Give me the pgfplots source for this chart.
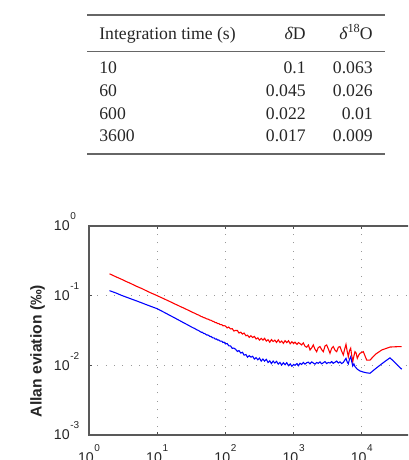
\documentclass[border=0pt]{standalone}
\usepackage{fontspec}
\setmainfont{Liberation Serif}
\newfontfamily\tabfont{Liberation Serif}
\newfontfamily\plotfont{Liberation Sans}
\usepackage{pgfplots}
\usepackage{pgfplotstable}
\pgfplotsset{compat=1.18}

% tick labels: "10" with a raised exponent
\newcommand\tickfont{\plotfont\fontsize{8.5}{10}\selectfont}
\newcommand\expo[1]{\raisebox{6.6pt}{\fontsize{6}{7}\selectfont #1}}
\newcommand\xl[1]{10\kern0.4pt\smash{\expo{#1}}}
\newcommand\yl[1]{10\rlap{\kern0.4pt\smash{\expo{#1}}}}
\newcommand\tabtext{\tabfont\fontsize{10.6}{12}\selectfont}

% Allan deviation, delta D (permil)
\pgfplotstableread{
tau sig
2 0.206
2.5 0.186
3 0.172
3.5 0.160
4 0.151
4.5 0.143
5 0.136
6 0.126
7 0.117
8 0.110
9 0.1047
10 0.1000
11 0.0957
12 0.0921
13 0.0888
14 0.0858
15 0.0832
16 0.0807
18 0.0763
20 0.0728
22 0.0696
24 0.0670
26 0.0645
28 0.0624
30 0.0604
32 0.0585
34 0.0569
36 0.0556
38 0.0540
40 0.0530
42 0.0517
44 0.0503
46 0.0497
48 0.0484
50 0.0480
53 0.0465
56 0.0460
59 0.0446
62 0.0443
65 0.0428
68 0.0425
71 0.0410
74 0.0411
77 0.0397
80 0.0398
84 0.0384
88 0.0384
92 0.0370
96 0.0371
100 0.0367
106 0.0345
112 0.0354
119 0.0333
126 0.0336
133 0.0311
141 0.0317
150 0.0316
158 0.0291
168 0.0299
178 0.0281
188 0.0291
200 0.0266
211 0.0271
224 0.0252
237 0.0266
251 0.0251
266 0.0260
282 0.0239
299 0.0248
316 0.0230
335 0.0244
355 0.0230
376 0.0244
398 0.0223
422 0.0233
447 0.0215
473 0.0234
501 0.0220
531 0.0230
562 0.0213
596 0.0232
631 0.0213
668 0.0223
708 0.0207
750 0.0226
794 0.0212
841 0.0225
891 0.0204
944 0.0218
1000 0.0205
1049 0.0215
1120 0.0200
1180 0.0212
1242 0.0205
1310 0.0196
1388 0.0210
1470 0.0188
1556 0.0182
1650 0.0196
1740 0.0166
1840 0.0178
1945 0.0196
2060 0.0170
2178 0.0157
2300 0.0180
2437 0.0186
2580 0.0168
2728 0.0157
2890 0.0190
3054 0.0196
3230 0.0172
3418 0.0149
3610 0.0175
3820 0.0186
4050 0.0165
4283 0.0157
4530 0.0182
4786 0.0186
5060 0.0160
5356 0.0141
5600 0.0170
5865 0.0200
6100 0.0160
6345 0.0133
6600 0.0162
6874 0.0176
7100 0.0140
7361 0.0113
7650 0.0135
7943 0.0157
8250 0.0150
8590 0.0126
9000 0.0140
9413 0.0149
10520 0.0157
11800 0.0119
13190 0.0119
16000 0.0145
19590 0.0166
25900 0.0183
32000 0.0185
38460 0.0186
}\dD

% Allan deviation, delta 18O (permil)
\pgfplotstableread{
tau sig
2 0.118
2.5 0.109
3 0.101
3.5 0.0955
4 0.0910
4.5 0.0872
5 0.0840
6 0.0785
7 0.0740
8 0.0705
9 0.0675
10 0.0650
11 0.0619
12 0.0592
13 0.0568
14 0.0547
15 0.0527
16 0.0510
18 0.0480
20 0.0454
22 0.0432
24 0.0412
26 0.0396
28 0.0380
30 0.0367
32 0.0354
34 0.0344
36 0.0335
38 0.0324
40 0.0318
42 0.0308
44 0.0299
46 0.0298
48 0.0287
50 0.0285
53 0.0273
56 0.0272
59 0.0260
62 0.0259
65 0.0248
68 0.0248
71 0.0238
74 0.0239
77 0.0230
80 0.0232
84 0.0222
88 0.0223
92 0.0213
96 0.0215
100 0.0203
106 0.0206
112 0.0191
119 0.0190
126 0.0175
133 0.0177
141 0.0170
150 0.0158
158 0.0163
168 0.0150
178 0.0154
188 0.0140
200 0.0143
211 0.0131
224 0.0138
237 0.0131
251 0.0135
266 0.0123
282 0.0129
299 0.0120
316 0.0127
335 0.0115
355 0.0123
376 0.0115
398 0.0122
422 0.0110
447 0.0116
473 0.0106
501 0.0115
531 0.0108
562 0.0114
596 0.0104
631 0.0110
668 0.0101
708 0.0109
750 0.0102
794 0.0109
841 0.0099
891 0.0105
944 0.0097
1000 0.0103
1049 0.0100
1120 0.0106
1180 0.0099
1242 0.0107
1310 0.0103
1388 0.0110
1470 0.0104
1556 0.0109
1650 0.0111
1740 0.0105
1840 0.0112
1945 0.0108
2060 0.0104
2178 0.0110
2300 0.0107
2437 0.0112
2580 0.0105
2728 0.0109
2890 0.0113
3054 0.0106
3230 0.0110
3418 0.0108
3610 0.0113
3820 0.0107
4050 0.0111
4283 0.0115
4530 0.0108
4786 0.0112
5060 0.0106
5356 0.0110
5600 0.0118
5865 0.0126
6100 0.0112
6345 0.0105
6600 0.0122
6874 0.0133
7100 0.0115
7361 0.0098
7650 0.0105
7943 0.0096
8590 0.0088
9413 0.0083
10520 0.0080
11800 0.0078
13190 0.0077
16000 0.0090
19590 0.0105
23000 0.0118
25900 0.0128
30000 0.0112
38460 0.0088
}\dO

\begin{document}
\begin{tikzpicture}
\useasboundingbox (0,0) rectangle (244.8pt,276pt);
\clip (0,0) rectangle (244.8pt,276pt);

% precision table
\begin{scope}[x=0.6pt,y=0.6pt,every node/.style={inner sep=0pt,text=black!85,font=\tabtext}]
  \draw[black!60,line width=0.8pt] (87,445) -- (385,445);
  \draw[black!60,line width=0.5pt] (87,408.3) -- (385,408.3);
  \draw[black!60,line width=0.8pt] (87,306) -- (385,306);
  \node[anchor=base west] at (99,420) {Integration time (s)};
  \node[anchor=base east] at (306,420) {{\itshape δ}D};
  \node[anchor=base east] at (373,420) {{\itshape δ}\raisebox{0.42em}{\fontsize{7.4}{8}\selectfont 18}O};
  \foreach \t/\a/\b [count=\i] in {10/0.1/0.063, 60/0.045/0.026, 600/0.022/0.01, 3600/0.017/0.009}{
    \pgfmathsetmacro\yy{386-22.57*(\i-1)}
    \node[anchor=base west] at (99,\yy) {\t};
    \node[anchor=base east] at (306,\yy) {\a};
    \node[anchor=base east] at (373,\yy) {\b};
  }
\end{scope}

\begin{axis}[
  at={(53.4pt,15pt)}, anchor=south west,
  scale only axis, width=204.6pt, height=125.4pt,
  xmode=log, ymode=log, log basis x=10, log basis y=10,
  xmin=1, xmax=1e5, ymin=1e-3, ymax=1,
  xtick={1,10,100,1000,10000,100000},
  xticklabels={\xl{0},\xl{1},\xl{2},\xl{3},\xl{4},\xl{5}},
  ytick={0.001,0.01,0.1,1},
  yticklabels={\yl{-3},\yl{-2},\yl{-1},\yl{0}},
  tick align=inside,
  major tick length=2pt, minor tick length=2pt,
  tick style={black!70,line width=0.4pt},
  axis line style={black!65,line width=0.8pt},
  grid=major,
  major grid style={black!40,line width=0.6pt,dash pattern=on 0.6pt off 4.4pt},
  ticklabel style={font=\tickfont,text=black!85,inner sep=0pt},
  xticklabel style={anchor=north,yshift=-10.4pt},
  yticklabel style={anchor=east,xshift=-11.4pt},
]
\addplot[red,line width=0.65pt] table[x=tau,y=sig] {\dD};
\addplot[blue,line width=0.65pt] table[x=tau,y=sig] {\dO};
\end{axis}

\node[rotate=90,inner sep=0pt,text=black!85,font=\plotfont\bfseries\fontsize{9.4}{11}\selectfont]
  at (22.5pt,65.4pt) {Allan eviation (‰)};
\end{tikzpicture}
\end{document}
